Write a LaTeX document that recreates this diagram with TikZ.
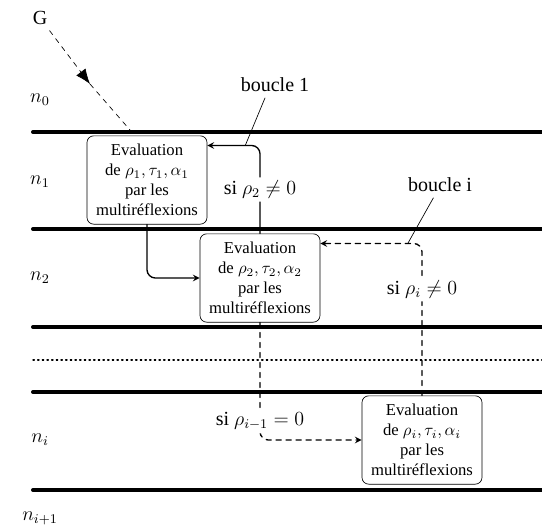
\documentclass[tikz,border=0pt]{standalone}
\usepackage{fontspec}
\setmainfont{Liberation Serif}
\usetikzlibrary{arrows.meta}
\begin{document}
\begin{tikzpicture}[>=stealth,line cap=round,line join=round,x=0.6pt,y=-0.6pt,
	couche/.style={line width=2.4pt},
	evalbox/.style={draw,rounded corners=4pt,align=center,minimum width=72pt,minimum height=53pt,inner sep=2pt,font=\normalsize},
	cond/.style={fill=white,inner sep=2pt,font=\large},
	lien/.style={thick,->,rounded corners=5pt},
	nom/.style={font=\large}]
	\useasboundingbox (0,0) rectangle (542,528);
	% couches
	\draw[couche] (33,132)--(542,132);
	\draw[couche] (33,229)--(542,229);
	\draw[couche] (33,327)--(542,327);
	\draw[thick,dotted] (33,360)--(542,360);
	\draw[couche] (33,392)--(542,392);
	\draw[couche] (33,490)--(542,490);
	\node[nom] (n0) at (40,100) {$n_0$};
	\node[nom] (n1) at (40,182) {$n_1$};
	\node[nom] (n2) at (40,278) {$n_2$};
	\node[nom] (ni) at (40,440) {$n_i$};
	\node[nom] (nj) at (40,518) {$n_{i+1}$};
	% onde incidente
	\node[nom] (G) at (40,18) {G};
	\coordinate (Gm) at (90,84);
	\coordinate (Gf) at (130,130);
	\draw[dashed,-{Latex[length=9pt,width=7pt]}] (G) -- (Gm);
	\draw[dashed] (Gm) -- (Gf);
	% evaluations
	\node[evalbox] (box1) at (147,180) {Evaluation\\de $\rho_1,\tau_1,\alpha_1$\\par les\\multiréflexions};
	\node[evalbox] (box2) at (260,278) {Evaluation\\de $\rho_2,\tau_2,\alpha_2$\\par les\\multiréflexions};
	\node[evalbox] (boxi) at (422,440) {Evaluation\\de $\rho_i,\tau_i,\alpha_i$\\par les\\multiréflexions};
	\draw[lien] (box1.south) |- (box2.west);
	\draw[lien] (box2.north) |- ([yshift=-6pt]box1.north east)
		node[cond,pos=0.25] {si $\rho_2\neq0$} coordinate[pos=0.64] (p1);
	\draw[lien,dashed] (box2.south) |- (boxi.west)
		node[cond,pos=0.42] {si $\rho_{i-1}=0$};
	\draw[lien,dashed] (boxi.north) |- ([yshift=-6pt]box2.north east)
		node[cond,pos=0.35] {si $\rho_i\neq0$} coordinate[pos=0.57] (pi);
	% boucles
	\node[nom] (b1) at (275,85) {boucle 1};
	\node[nom] (bi) at (440,185) {boucle i};
	\draw[thin] ([xshift=-6pt]b1.south) -- (p1);
	\draw[thin] ([xshift=-4pt]bi.south) -- (pi);
\end{tikzpicture}
\end{document}
